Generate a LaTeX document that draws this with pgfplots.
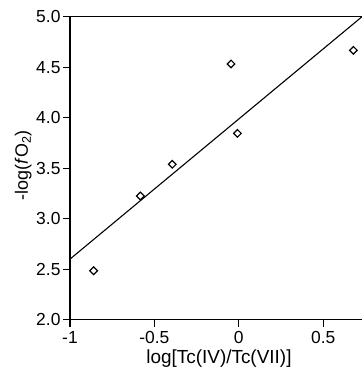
\documentclass[border=0pt]{standalone}
\usepackage{pgfplots}
\pgfplotsset{compat=1.18}
\usepackage{fontspec}
\setmainfont{Liberation Sans}
\begin{document}
\begin{tikzpicture}
\begin{axis}[name=ax,
  scale only axis, width=292bp, height=303bp,
  xmin=-1, xmax=0.73, ymin=2, ymax=5,
  axis lines=left, axis line style={-, line width=1.4bp},
  tick align=outside, major tick length=7bp,
  tick style={line width=1.2bp, black},
  xtick={-1,-0.5,0,0.5}, xticklabels={-1,-0.5,0,0.5},
  ytick={2,2.5,3,3.5,4,4.5,5},
  yticklabel style={xshift=1bp, /pgf/number format/.cd, fixed, fixed zerofill, precision=1},
  /pgf/number format/assume math mode=true,
  ticklabel style={font=\fontsize{17.5}{19}\selectfont},
  xticklabel style={yshift=-1bp},
  xlabel={log[Tc(IV)/Tc(VII)]},
  ylabel={-log(\textit{f}O\textsubscript{2})},
  xlabel style={font=\fontsize{19}{21}\selectfont, at={(axis description cs:0.51,0)}, anchor=base, yshift=-44bp},
  ylabel style={font=\fontsize{18}{20}\selectfont, at={(axis description cs:-0.144,0.51)}, anchor=base},
  clip=false,
]
\addplot[black, line width=1.1bp] coordinates {(-1,2.6) (0.73,5.0)};
\addplot[only marks, mark=square, mark size=2.7bp, black, line width=1.2bp,
  mark options={rotate=45, fill=white}] coordinates {
  (-0.86,2.485) (-0.583,3.225) (-0.394,3.539) (-0.046,4.532) (-0.008,3.845) (0.679,4.667)};
\end{axis}
\draw[line width=1.4bp] (ax.north west) -- (ax.north east);
\pgfresetboundingbox
\path ([shift={(-70bp,-47.3bp)}]ax.south west) rectangle ([shift={(0bp,16.7bp)}]ax.north east);
\end{tikzpicture}
\end{document}
